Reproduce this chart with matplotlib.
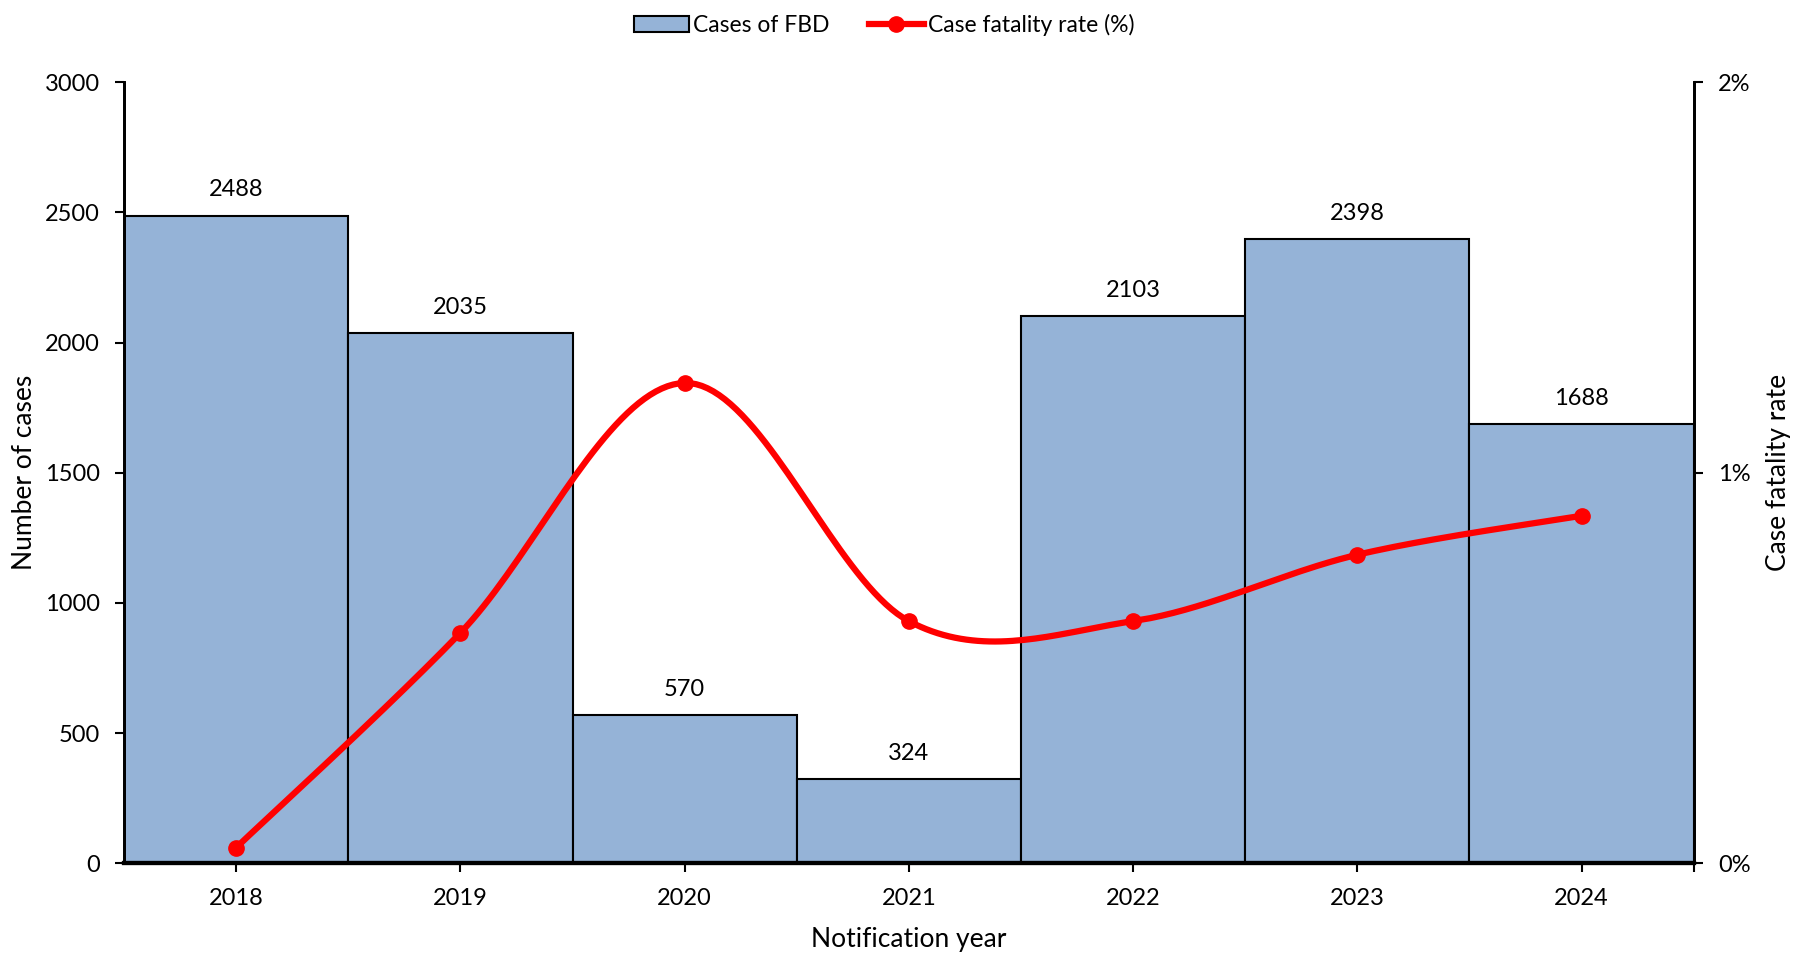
import numpy as np
import matplotlib.pyplot as plt
from matplotlib.patches import Patch
from matplotlib.lines import Line2D
from matplotlib.ticker import FuncFormatter

plt.rcParams['font.family'] = ['Lato', 'DejaVu Sans']

years = ['2018', '2019', '2020', '2021', '2022', '2023', '2024']
cases = [2488, 2035, 570, 324, 2103, 2398, 1688]
fatality_rate = [0.04, 0.59, 1.23, 0.62, 0.62, 0.79, 0.89]  # percent

bar_color = '#95B3D7'
line_color = '#FF0000'


def smooth_curve(xs, ys, steps=40):
    # bezier segments with neighbour-based control points (spreadsheet style smoothing)
    pts = np.column_stack([xs, ys]).astype(float)
    n = len(pts)
    out = []
    for i in range(n - 1):
        p0 = pts[i]
        p3 = pts[i + 1]
        prev = pts[i - 1] if i > 0 else pts[i]
        nxt = pts[i + 2] if i + 2 < n else pts[i + 1]
        p1 = p0 + (p3 - prev) / 6
        p2 = p3 - (nxt - p0) / 6
        t = np.linspace(0, 1, steps)[:, None]
        seg = ((1 - t) ** 3 * p0 + 3 * (1 - t) ** 2 * t * p1
               + 3 * (1 - t) * t ** 2 * p2 + t ** 3 * p3)
        out.append(seg if i == 0 else seg[1:])
    out = np.vstack(out)
    return out[:, 0], out[:, 1]


fig = plt.figure(figsize=(17.98, 9.57), dpi=100)
ax = fig.add_axes([0.069, 0.098, 0.873, 0.816])
ax2 = ax.twinx()

x = np.arange(len(years))
ax.bar(x, cases, width=1.0, color=bar_color, edgecolor='black', linewidth=1.5, zorder=2)
for xi, v in zip(x, cases):
    ax.annotate(str(v), (xi, v), xytext=(0, 11), textcoords='offset points',
                ha='center', va='bottom', fontsize=17)

ax.set_xlim(-0.5, len(years) - 0.5)
ax.set_ylim(0, 3000)
ax.set_yticks(range(0, 3001, 500))
ax.set_xticks(list(x) + [len(years) - 0.5])
ax.set_xticklabels(years + [''])
ax.set_xlabel('Notification year', fontsize=19)
ax.set_ylabel('Number of cases', fontsize=19)
ax.xaxis.set_label_coords(0.5, -0.082)
ax.yaxis.set_label_coords(-0.0555, 0.5)

sx, sy = smooth_curve(x, fatality_rate)
ax2.plot(sx, sy, color=line_color, linewidth=4.5, solid_capstyle='round', zorder=3)
ax2.plot(x, fatality_rate, 'o', color=line_color, markersize=11, zorder=4)
ax2.set_ylim(0, 2)
ax2.set_yticks([0, 1, 2])
ax2.yaxis.set_major_formatter(FuncFormatter(lambda v, _: f'{v:.0f}%'))
ax2.set_ylabel('Case fatality rate', fontsize=19)
ax2.yaxis.set_label_coords(1.046, 0.5)

for a in (ax, ax2):
    a.spines['top'].set_visible(False)
    a.spines['left'].set_linewidth(2)
    a.spines['right'].set_linewidth(2)
    a.spines['bottom'].set_linewidth(3)
    a.tick_params(axis='both', direction='out', length=6.5, width=1.5, labelsize=17, pad=11)

handles = [
    Patch(facecolor=bar_color, edgecolor='black', linewidth=1.5, label='Cases of FBD'),
    Line2D([0], [0], color=line_color, linewidth=4.5, marker='o', markersize=11,
           label='Case fatality rate (%)'),
]
fig.legend(handles=handles, loc='center', bbox_to_anchor=(0.4917, 0.974), ncol=2,
           frameon=False, fontsize=16.5, handlelength=2.4, handletextpad=0.2,
           columnspacing=1.7, borderpad=0)

fig.savefig('out.png', dpi=100)
